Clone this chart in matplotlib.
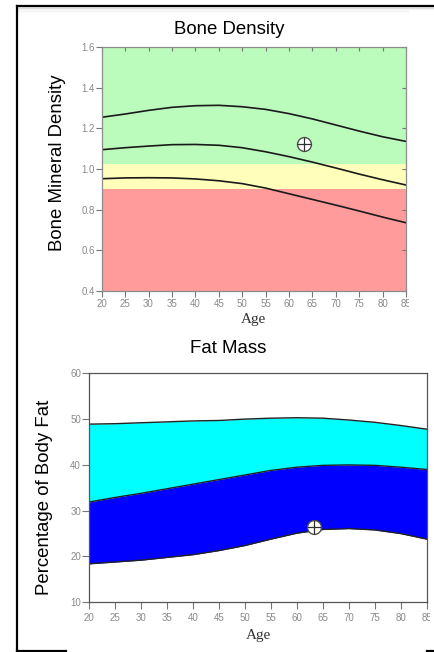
import matplotlib
matplotlib.use("Agg")
import matplotlib.pyplot as plt
from matplotlib.patches import Rectangle
from matplotlib.lines import Line2D

# --- data ---
ages = [20, 25, 30, 35, 40, 45, 50, 55, 60, 65, 70, 75, 80, 85]

bmd_upper = [1.255, 1.271, 1.289, 1.304, 1.312, 1.314, 1.307, 1.294, 1.273, 1.247, 1.217, 1.187, 1.159, 1.136]
bmd_mid = [1.095, 1.105, 1.113, 1.120, 1.121, 1.117, 1.105, 1.085, 1.061, 1.034, 1.005, 0.975, 0.947, 0.921]
bmd_lower = [0.952, 0.956, 0.957, 0.956, 0.951, 0.942, 0.928, 0.906, 0.878, 0.850, 0.822, 0.793, 0.763, 0.735]
bmd_zones = [0.4, 0.9, 1.025, 1.6]  # red / yellow / green limits
bmd_point = (63.3, 1.125)

fat_upper = [48.9, 49.0, 49.2, 49.4, 49.6, 49.7, 50.0, 50.2, 50.3, 50.2, 49.8, 49.3, 48.6, 47.8]
fat_mid = [31.9, 32.9, 33.8, 34.8, 35.8, 36.8, 37.8, 38.8, 39.5, 39.9, 40.0, 39.9, 39.5, 39.0]
fat_lower = [18.4, 18.8, 19.2, 19.8, 20.4, 21.3, 22.4, 23.8, 25.1, 25.9, 26.1, 25.8, 25.0, 23.8]
fat_point = (63.2, 26.4)

bmd_yticks = [0.4, 0.6, 0.8, 1.0, 1.2, 1.4, 1.6]
fat_yticks = [10, 20, 30, 40, 50, 60]
age_ticks = list(range(20, 90, 5))

W, H = 435, 652
fig = plt.figure(figsize=(W / 100, H / 100), dpi=100)
fig.patch.set_facecolor("white")

SANS = "Liberation Sans"
SERIF = "Liberation Serif"
tick_grey = "#8a8a8a"


def ax_rect(l, t, r, b):
    return [l / W, 1 - b / H, (r - l) / W, (b - t) / H]


def draw_marker(ax, pt):
    ax.plot(*pt, marker="o", ms=10, mfc="white", mec="#505050", mew=1.0, zorder=5, clip_on=False)
    ax.plot(*pt, marker="+", ms=10, mec="#303030", mew=0.9, zorder=6, clip_on=False)


# ---------- Bone density ----------
ax1 = fig.add_axes(ax_rect(101.7, 47.3, 406, 290.7))
ax1.axhspan(bmd_zones[0], bmd_zones[1], color="#ff9b9b", lw=0)
ax1.axhspan(bmd_zones[1], bmd_zones[2], color="#ffffbb", lw=0)
ax1.axhspan(bmd_zones[2], bmd_zones[3], color="#bbfbbb", lw=0)
for s in (bmd_upper, bmd_mid, bmd_lower):
    ax1.plot(ages, s, color="#1a1a1a", lw=1.2)
draw_marker(ax1, bmd_point)
ax1.set_xlim(20, 85)
ax1.set_ylim(0.4, 1.6)
ax1.set_xticks(age_ticks)
ax1.set_yticks(bmd_yticks)
ax1.set_yticklabels([f"{v:.1f}" for v in bmd_yticks])
ax1.tick_params(axis="both", labelsize=7, labelcolor=tick_grey, color="#777777",
                length=4, width=0.8, direction="out", labelfontfamily=SANS)
ax1.tick_params(axis="x", pad=2)
ax1.tick_params(axis="y", pad=1)
ax1.tick_params(top=True, right=True, which="major")
ax1.xaxis.set_tick_params(which="major", top=True)
for t in ax1.xaxis.get_major_ticks():
    t.tick2line.set_marker(3)  # inward tick on top
    t.tick2line.set_markersize(3)
for t in ax1.yaxis.get_major_ticks():
    t.tick2line.set_marker(0)  # inward tick on right
    t.tick2line.set_markersize(3)
for sp in ax1.spines.values():
    sp.set_color("#8c8c8c")
    sp.set_linewidth(0.9)
ax1.set_xlabel("Age", fontfamily=SERIF, fontsize=11, color="#333333", labelpad=3)

fig.text(229.5 / W, 1 - 34.3 / H, "Bone Density", fontfamily=SANS, fontsize=13.4,
         ha="center", va="baseline")
fig.text(58 / W, 1 - 162.5 / H, "Bone Mineral Density", fontfamily=SANS, fontsize=13.4,
         rotation=90, ha="center", va="center")

# ---------- Fat mass ----------
ax2 = fig.add_axes(ax_rect(89.3, 373.3, 426.7, 602.3))
ax2.fill_between(ages, fat_mid, fat_upper, color="#00ffff", lw=0)
ax2.fill_between(ages, fat_lower, fat_mid, color="#0000ff", lw=0)
for s in (fat_upper, fat_mid, fat_lower):
    ax2.plot(ages, s, color="#222222", lw=1.0)
draw_marker(ax2, fat_point)
ax2.set_xlim(20, 85)
ax2.set_ylim(10, 60)
ax2.set_xticks(age_ticks)
ax2.set_yticks(fat_yticks)
ax2.tick_params(axis="both", labelsize=7, labelcolor=tick_grey, color="#777777",
                length=5, width=0.8, direction="out", labelfontfamily=SANS)
ax2.tick_params(axis="x", pad=3)
ax2.tick_params(axis="y", pad=1)
for sp in ax2.spines.values():
    sp.set_color("#555555")
    sp.set_linewidth(0.9)
ax2.set_xlabel("Age", fontfamily=SERIF, fontsize=11, color="#333333", labelpad=4)

fig.text(228 / W, 1 - 352.7 / H, "Fat Mass", fontfamily=SANS, fontsize=13.4,
         ha="center", va="baseline")
fig.text(45 / W, 1 - 497.5 / H, "Percentage of Body Fat", fontfamily=SANS, fontsize=13.4,
         rotation=90, ha="center", va="center")

# images in the source are cut off on the right
fig.add_artist(Rectangle((409.5 / W, 1 - 335 / H), 26 / W, 325 / H, transform=fig.transFigure,
                         facecolor="white", edgecolor="none", zorder=10))
fig.add_artist(Rectangle((430.5 / W, 1 - 645 / H), 6 / W, 278 / H, transform=fig.transFigure,
                         facecolor="white", edgecolor="none", zorder=10))

# outer frame
frame_kw = dict(color="black", lw=1.6, transform=fig.transFigure, zorder=11)
fig.add_artist(Line2D([17.5 / W, 1], [1 - 5.5 / H, 1 - 5.5 / H], **frame_kw))
fig.add_artist(Line2D([17.5 / W, 17.5 / W], [1 - 5.5 / H, 1 - 650.5 / H], **frame_kw))
fig.add_artist(Line2D([17.5 / W, 66 / W], [1 - 650.5 / H, 1 - 650.5 / H], **frame_kw))
fig.add_artist(Line2D([427 / W, 1], [1 - 650.5 / H, 1 - 650.5 / H], **frame_kw))
# faint shadow under the top edge
for i, a in enumerate([0.10, 0.07, 0.05, 0.03, 0.015]):
    fig.add_artist(Rectangle((18.5 / W, 1 - (7 + i * 1.5) / H), (W - 18.5) / W, 1.5 / H,
                             transform=fig.transFigure, facecolor="black", alpha=a,
                             edgecolor="none", zorder=9))

fig.savefig("out.png", dpi=100)
